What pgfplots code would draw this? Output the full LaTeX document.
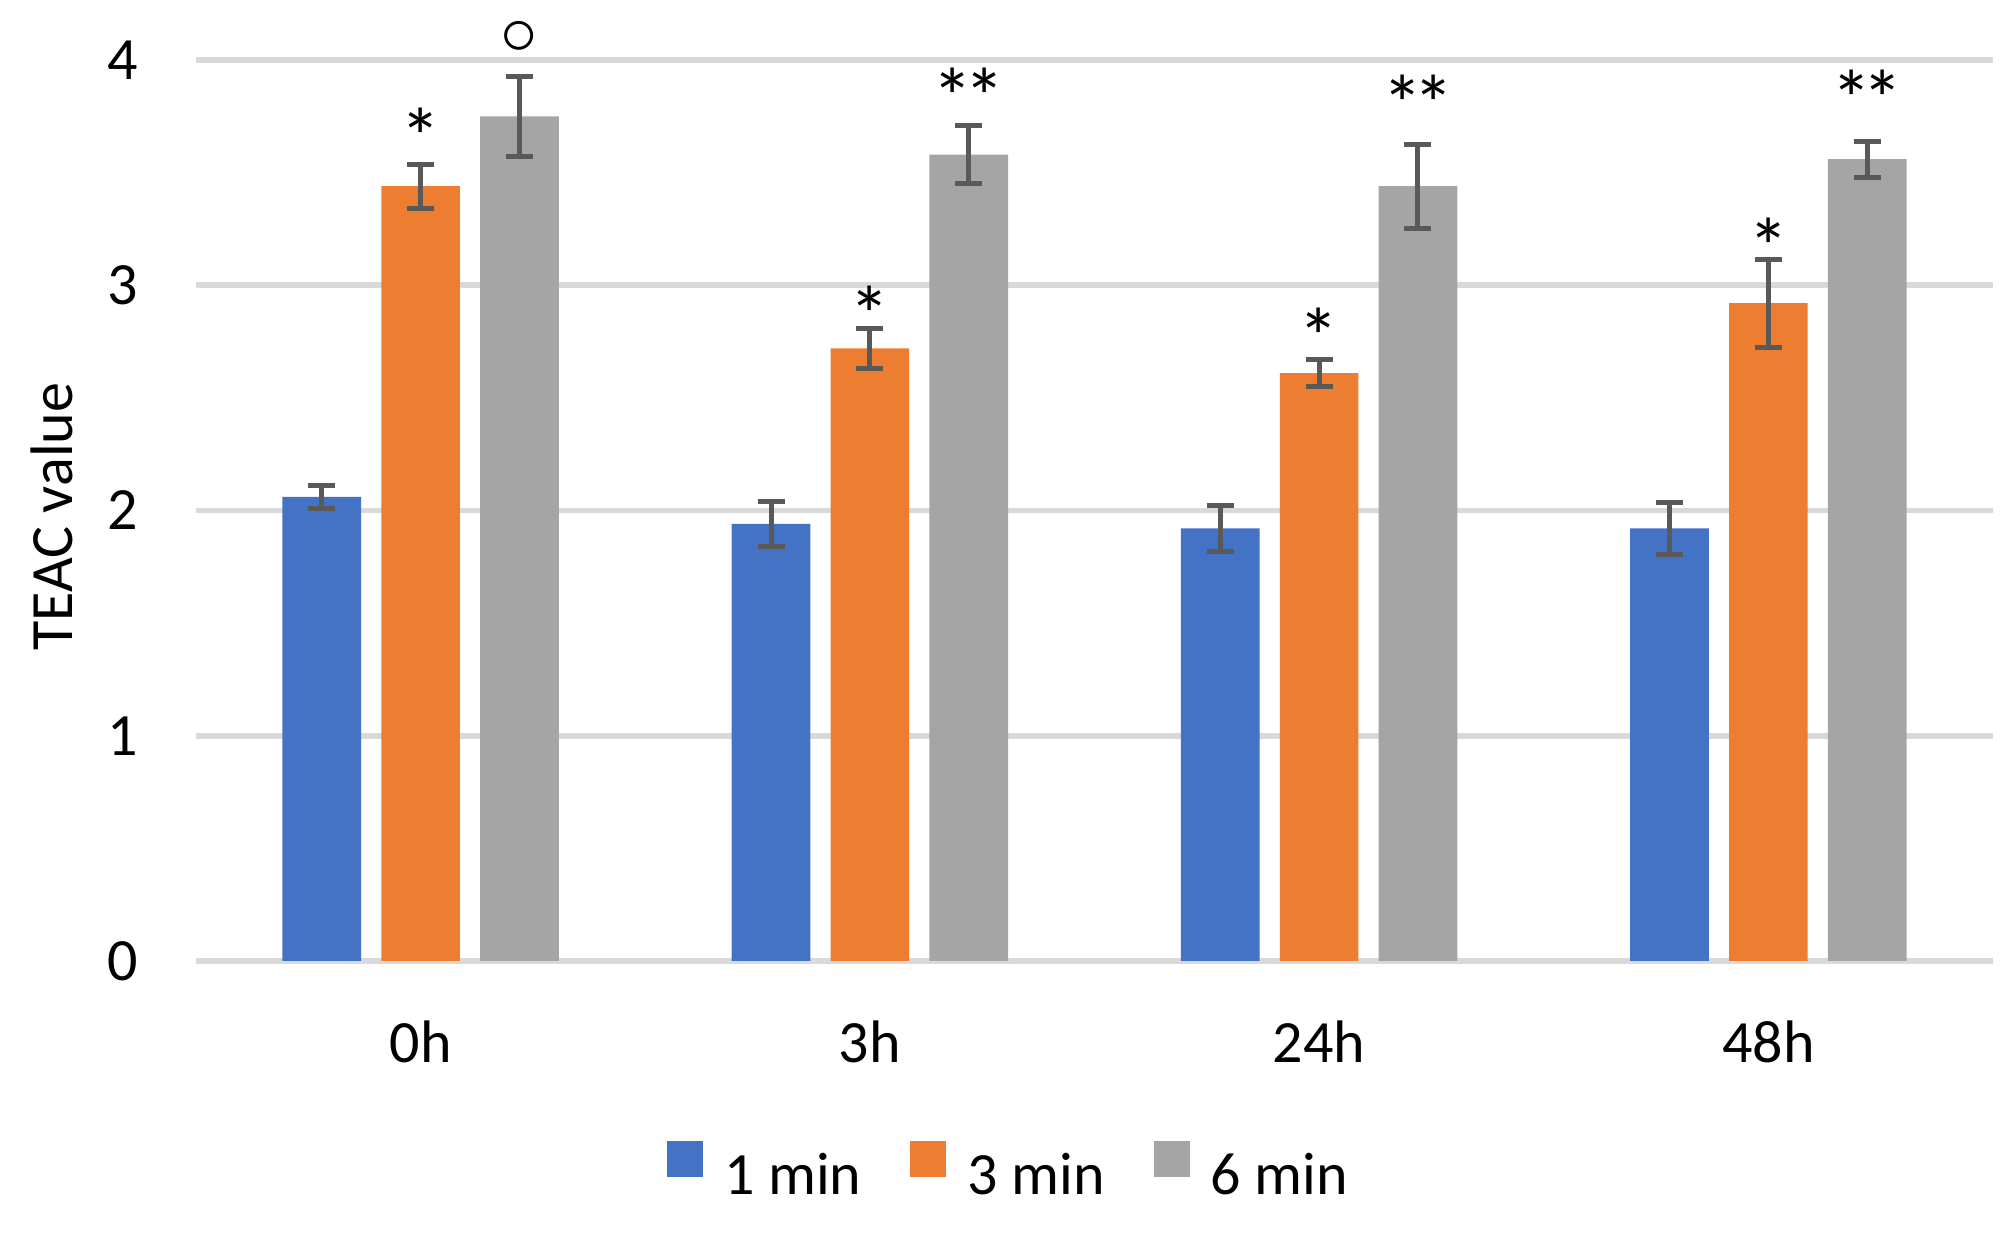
\documentclass[border=0pt]{standalone}
\usepackage{fontspec}
\setmainfont{Carlito}
\usepackage{pgfplots}
\pgfplotsset{compat=1.18}

\definecolor{cblue}{HTML}{4472C4}
\definecolor{corange}{HTML}{ED7D31}
\definecolor{cgray}{HTML}{A5A5A5}
\definecolor{errgray}{HTML}{595959}
\definecolor{gridgray}{HTML}{D9D9D9}

\newcommand{\lbl}{\fontsize{20}{24}\selectfont}
\newcommand{\sigfont}{\fontsize{27}{30}\selectfont}
\tikzset{sig/.style={font=\sigfont, anchor=center, inner sep=0pt, yshift=-5.4pt}}

\begin{document}
\begin{tikzpicture}
\begin{axis}[
    scale only axis,
    width=599pt, height=300.33pt,
    ybar,
    bar width=0.175,
    xmin=-0.5, xmax=3.5,
    ymin=0, ymax=4,
    xtick={0,1,2,3},
    xticklabels={0h,3h,24h,48h},
    ytick={0,1,2,3,4},
    major tick length=0pt,
    axis line style={draw=none},
    ymajorgrids=true,
    grid style={line width=1.9pt, color=gridgray},
    /pgf/number format/assume math mode=true,
    tick label style={font=\lbl},
    yticklabel style={anchor=east, inner sep=0pt, xshift=-19.3pt},
    xticklabel style={anchor=base, inner sep=0pt, yshift=-34pt},
    ylabel={TEAC value},
    ylabel style={font=\lbl, at={(axis description cs:-0.0684,0.493)}, anchor=south, inner sep=0pt},
    clip=false,
    legend columns=-1,
    legend style={draw=none, font=\lbl, at={(axis description cs:0.4516,-0.232)}, anchor=center,
        nodes={inner sep=0pt},
        /tikz/every odd column/.style={column sep=7pt},
        /tikz/every even column/.style={column sep=16.3pt}},
    legend image code/.code={\fill[#1] (0pt,0pt) rectangle (12pt,12pt);},
    error bars/y dir=both,
    error bars/y explicit,
    error bars/error bar style={line width=1.67pt, color=errgray},
    error bars/error mark options={rotate=90, mark size=4.5pt, line width=1.67pt, color=errgray},
]
\addplot[fill=cblue, draw=none, bar shift=-0.22] coordinates {
    (0,2.06) +- (0,0.05)
    (1,1.94) +- (0,0.10)
    (2,1.92) +- (0,0.10)
    (3,1.92) +- (0,0.117)
};
\addlegendentry{1 min}
\addplot[fill=corange, draw=none, bar shift=0] coordinates {
    (0,3.44) +- (0,0.098)
    (1,2.72) +- (0,0.09)
    (2,2.61) +- (0,0.06)
    (3,2.92) +- (0,0.195)
};
\addlegendentry{3 min}
\addplot[fill=cgray, draw=none, bar shift=0.22] coordinates {
    (0,3.75) +- (0,0.177)
    (1,3.58) +- (0,0.127)
    (2,3.44) +- (0,0.186)
    (3,3.56) +- (0,0.08)
};
\addlegendentry{6 min}

% significance marks
\node[sig] at (axis cs:0,3.73) {*};
\node[sig] at (axis cs:1,2.94) {*};
\node[sig] at (axis cs:2,2.843) {*};
\node[sig] at (axis cs:3,3.242) {*};
\node[sig] at (axis cs:1.22,3.908) {*\kern-3pt*};
\node[sig] at (axis cs:2.22,3.878) {*\kern-3pt*};
\node[sig] at (axis cs:3.22,3.899) {*\kern-3pt*};
\node[font=\fontsize{24}{28}\selectfont, anchor=center, inner sep=0pt] at (axis cs:0.22,4.097) {$\circ$};
\end{axis}
\pgfresetboundingbox
\path (current axis.south west) ++(-65.33pt,-90.67pt) rectangle ++(671.67pt,411pt);
\end{tikzpicture}
\end{document}
